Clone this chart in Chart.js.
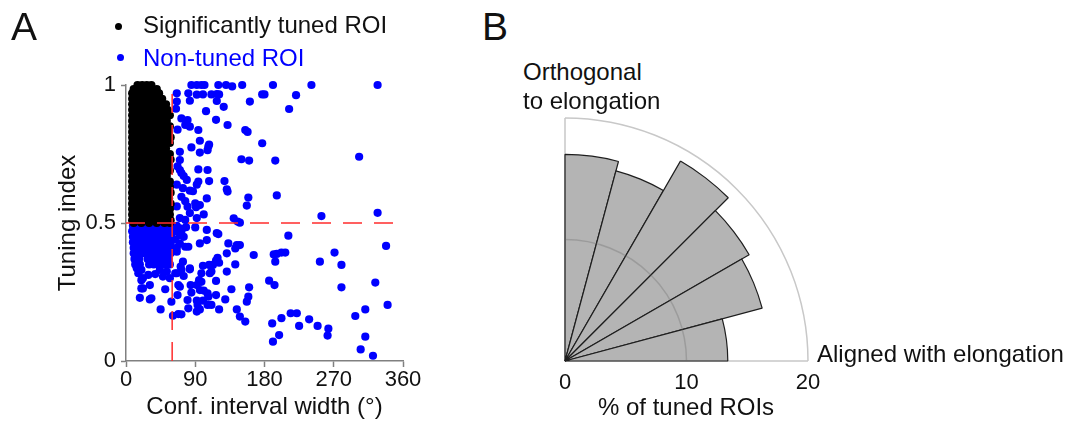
<!DOCTYPE html>
<html>
<head>
<meta charset="utf-8">
<title>Tuning index / orientation</title>
<script src="https://cdn.jsdelivr.net/npm/chart.js@4.4.6/dist/chart.umd.min.js"></script>
<style>
  html, body { margin: 0; padding: 0; width: 1071px; height: 425px; overflow: hidden; background: #fff;
               font-family: "Liberation Sans", Arial, sans-serif; }
  #canvasA { position: absolute; left: 0; top: 0; }
  #canvasB { position: absolute; left: 292px; top: 88px; }
  .lbl { position: absolute; white-space: nowrap; color: #111; font-size: 24px; line-height: 1; }
  .big { font-size: 39px; }
  .dot { position: absolute; width: 7px; height: 7px; border-radius: 50%; }
</style>
</head>
<body>
  <canvas id="canvasA" width="460" height="425"></canvas>
  <canvas id="canvasB" width="546" height="546"></canvas>

  <div class="lbl big" style="left:11px; top:7px;">A</div>
  <div class="lbl big" style="left:482px; top:7px;">B</div>

  <div class="dot" style="left:115px; top:23px; background:#000;"></div>
  <div class="lbl" style="left:143px; top:13px;">Significantly tuned ROI</div>
  <div class="dot" style="left:117px; top:54px; background:#0000ff;"></div>
  <div class="lbl" style="left:143px; top:46px; color:#0000ff;">Non-tuned ROI</div>

  <div class="lbl" style="left:523px; top:60px;">Orthogonal</div>
  <div class="lbl" style="left:523px; top:89px;">to elongation</div>
  <div class="lbl" style="left:817px; top:342px;">Aligned with elongation</div>
  <div class="lbl" style="left:598px; top:395px;">% of tuned ROIs</div>

<script>
// ---- panel A : tuning index vs confidence interval width ----
// tuned ROIs, dense block: one row of x values (deg) per tuning index level
const tunedRowY = [1.00, 0.985, 0.97, 0.95, 0.93, 0.91, 0.89, 0.87, 0.85, 0.83, 0.81, 0.79, 0.77, 0.75,
                   0.73, 0.71, 0.69, 0.67, 0.65, 0.63, 0.61, 0.59, 0.57, 0.55, 0.53, 0.51, 0.50];
const tunedRowX = [
  [15, 21, 27, 33],
  [10, 16, 22, 28, 34, 40],
  [8, 13, 18, 23, 28, 33, 38, 43],
  [8, 13, 18, 23, 28, 33, 38, 43, 47],
  [8, 13, 18, 23, 28, 33, 38, 44, 52],
  [8, 13, 18, 23, 28, 33, 38, 43, 48, 54],
  [8, 13, 18, 23, 28, 33, 38, 43, 48, 53, 57],
  [8, 13, 18, 23, 28, 33, 38, 43, 48, 53],
  [8, 13, 18, 23, 28, 33, 38, 43, 48, 53, 57],
  [8, 13, 18, 23, 28, 33, 38, 43, 48, 52, 56],
  [8, 13, 18, 23, 28, 33, 38, 43, 48, 53, 58],
  [8, 13, 18, 23, 28, 33, 38, 43, 48, 53, 57],
  [8, 13, 18, 23, 28, 33, 38, 43, 48, 52],
  [8, 13, 18, 23, 28, 33, 38, 43, 48, 53, 57],
  [8, 13, 18, 23, 28, 33, 38, 43, 48, 53, 58],
  [8, 13, 18, 23, 28, 33, 38, 43, 48, 52, 56],
  [8, 13, 18, 23, 28, 33, 38, 43, 48, 53, 57],
  [8, 13, 18, 23, 28, 33, 38, 43, 48, 53],
  [8, 13, 18, 23, 28, 33, 38, 43, 48, 53, 57],
  [8, 13, 18, 23, 28, 33, 38, 43, 48, 52, 57],
  [8, 13, 18, 23, 28, 33, 38, 43, 48, 53, 58],
  [8, 13, 18, 23, 28, 33, 38, 43, 48, 53, 56],
  [8, 13, 18, 23, 28, 33, 38, 43, 48, 53, 58],
  [8, 13, 18, 23, 28, 33, 38, 43, 48, 53, 57],
  [8, 13, 18, 23, 28, 33, 38, 43, 48, 52, 57],
  [8, 13, 18, 23, 28, 33, 38, 43, 48, 53, 58],
  [10, 20, 30, 40, 50, 57]
];

// non-tuned ROIs, dense block under 0.5
const nonTunedRowY = [0.49, 0.47, 0.45, 0.43, 0.41, 0.39, 0.37, 0.35];
const nonTunedRowX = [
  [9, 14, 19, 24, 29, 34, 39, 44, 49, 54, 59],
  [8, 13, 18, 23, 28, 33, 38, 43, 48, 53, 58, 63],
  [9, 14, 19, 24, 29, 34, 39, 44, 49, 54, 59],
  [9, 14, 19, 24, 29, 34, 39, 44, 49, 54, 58],
  [10, 15, 20, 25, 30, 35, 40, 45, 50, 55, 60],
  [10, 15, 21, 27, 33, 38, 43, 48, 53, 58],
  [11, 17, 28, 34, 40, 45, 50, 55],
  [12, 18, 30, 36, 42, 47, 52, 57]
];

// non-tuned ROIs, scattered [CI width (deg), tuning index]
const nonTunedPts = [
  [85, 1.0], [92, 1.0], [98, 1.0], [102, 1.0], [120, 1.0], [130, 1.0], [138, 0.995], [151, 1.0],
  [191, 1.0], [241, 1.0], [327, 1.0],
  [66, 0.97], [66, 0.94], [65, 0.914], [81, 0.97], [83, 0.943], [92, 0.965], [100, 0.966],
  [111, 0.966], [118, 0.967], [121, 0.966], [118, 0.942], [127, 0.921], [104, 0.905], [117, 0.874],
  [132, 0.855], [94, 0.837], [72, 0.879], [80, 0.873], [83, 0.849], [77, 0.855], [67, 0.838],
  [155, 0.837], [158, 0.83], [161, 0.94], [177, 0.966], [180, 0.966], [212, 0.913], [221, 0.963],
  [177, 0.789], [303, 0.74], [96, 0.798], [107, 0.777], [106, 0.764], [108, 0.784], [96, 0.755],
  [85, 0.774], [70, 0.758], [70, 0.728], [150, 0.731], [160, 0.726], [194, 0.726], [196, 0.6],
  [67, 0.705], [94, 0.694], [106, 0.692], [108, 0.652], [94, 0.65], [70, 0.692], [72, 0.681],
  [75, 0.67], [79, 0.656], [128, 0.652], [131, 0.622], [132, 0.614], [159, 0.592], [157, 0.563],
  [92, 0.639], [66, 0.639], [87, 0.615], [105, 0.589], [96, 0.565], [90, 0.571], [91, 0.557],
  [101, 0.531], [74, 0.626], [83, 0.617], [72, 0.595], [77, 0.579], [66, 0.56], [80, 0.559],
  [83, 0.536], [70, 0.518], [92, 0.518], [140, 0.517], [145, 0.505], [148, 0.501], [254, 0.525],
  [327, 0.537],
  [66, 0.49], [70, 0.481], [72, 0.47], [78, 0.485], [77, 0.511], [90, 0.484], [105, 0.475],
  [70, 0.455], [75, 0.45], [64, 0.44], [70, 0.425], [66, 0.41], [66, 0.396], [77, 0.414],
  [118, 0.463], [120, 0.46], [96, 0.426], [105, 0.438], [81, 0.414], [133, 0.426], [144, 0.42],
  [148, 0.42], [142, 0.408], [166, 0.384], [192, 0.386], [196, 0.388], [202, 0.393], [207, 0.393],
  [194, 0.36], [211, 0.454], [271, 0.393], [252, 0.36], [280, 0.348], [338, 0.417], [131, 0.39],
  [119, 0.374], [117, 0.364], [121, 0.356], [108, 0.348], [113, 0.348], [100, 0.345], [111, 0.324],
  [98, 0.318], [109, 0.318], [83, 0.332], [83, 0.336], [72, 0.33], [74, 0.36], [142, 0.35],
  [131, 0.324], [137, 0.26], [117, 0.29], [98, 0.287], [117, 0.239], [106, 0.245], [96, 0.257],
  [101, 0.255], [84, 0.275], [85, 0.248], [80, 0.221], [92, 0.219], [100, 0.219], [93, 0.203],
  [106, 0.203], [111, 0.203], [107, 0.233], [70, 0.269], [68, 0.275], [67, 0.239], [75, 0.308],
  [71, 0.342], [66, 0.318], [95, 0.293], [92, 0.275], [129, 0.223], [121, 0.187], [144, 0.187],
  [148, 0.161], [155, 0.143], [157, 0.215], [159, 0.233], [160, 0.267], [186, 0.291], [193, 0.275],
  [190, 0.136], [191, 0.07], [199, 0.094], [202, 0.155], [214, 0.173], [222, 0.173], [225, 0.127],
  [238, 0.151], [249, 0.127], [263, 0.117], [262, 0.092], [280, 0.267], [298, 0.163], [311, 0.187],
  [324, 0.284], [340, 0.203], [305, 0.042], [311, 0.088], [321, 0.019], [81, 0.191], [72, 0.169],
  [68, 0.17], [61, 0.164], [59, 0.215], [92, 0.179], [96, 0.187], [45, 0.187], [33, 0.227],
  [31, 0.223], [18, 0.229], [20, 0.263], [31, 0.275], [51, 0.26],
  [14, 0.336], [20, 0.33], [16, 0.318], [22, 0.3], [29, 0.312], [38, 0.315], [44, 0.33],
  [53, 0.324], [57, 0.3], [64, 0.318], [48, 0.306], [14, 0.342], [20, 0.293], [22, 0.263]
];

const ciCutoff = 60;        // deg, vertical dashed line
const tiCutoff = 0.5;       // tuning index, horizontal dashed line
const xTickStep = 90;
const yTickStep = 0.5;

// ---- panel B : preferred orientation of tuned ROIs, 15 deg bins ----
// bins listed clockwise from the vertical (orthogonal) to the horizontal (aligned)
const orientBins = ['75-90°', '60-75°', '45-60°', '30-45°', '15-30°', '0-15°'];
const pctTuned   = [17.0, 16.2, 19.0, 17.5, 16.8, 13.4];
const radialTicks = [0, 10, 20];

const FONT = '"Liberation Sans", Arial, sans-serif';
Chart.defaults.font.family = FONT;
Chart.defaults.color = '#111';

function rowsToPoints(ys, xs) {
  const pts = [];
  ys.forEach((y, i) => xs[i].forEach(x => pts.push({ x: x, y: y })));
  return pts;
}

const tunedData = rowsToPoints(tunedRowY, tunedRowX);
const nonTunedData = rowsToPoints(nonTunedRowY, nonTunedRowX)
  .concat(nonTunedPts.map(p => ({ x: p[0], y: p[1] })));

const dotStyle = { pointRadius: 4.1, pointHoverRadius: 4.1, pointBorderWidth: 0, showLine: false, clip: false };

new Chart(document.getElementById('canvasA'), {
  type: 'scatter',
  data: {
    datasets: [
      { type: 'line', data: [{ x: 0, y: tiCutoff }, { x: 360, y: tiCutoff }],
        borderColor: '#ff2d2d', borderWidth: 1.5, borderDash: [19, 12], pointRadius: 0, order: 0, clip: false },
      { type: 'line', data: [{ x: ciCutoff, y: 0 }, { x: ciCutoff, y: 1 }],
        borderColor: '#ff2d2d', borderWidth: 1.5, borderDash: [19, 12], pointRadius: 0, order: 0, clip: false },
      Object.assign({ label: 'Significantly tuned ROI', data: tunedData,
        pointBackgroundColor: '#000', pointBorderColor: '#000', order: 1 }, dotStyle),
      Object.assign({ label: 'Non-tuned ROI', data: nonTunedData,
        pointBackgroundColor: '#0000ff', pointBorderColor: '#0000ff', order: 2 }, dotStyle)
    ]
  },
  options: {
    responsive: false,
    animation: false,
    layout: { padding: { left: 0, top: 85, right: 57, bottom: 0 } },
    plugins: { legend: { display: false }, tooltip: { enabled: false } },
    scales: {
      x: {
        type: 'linear', min: 0, max: 360,
        ticks: { stepSize: xTickStep, font: { size: 22 }, padding: 0 },
        grid: { drawOnChartArea: false, tickLength: 6, color: '#808080', tickWidth: 1.5 },
        border: { color: '#808080', width: 1.5 },
        title: { display: true, text: 'Conf. interval width (°)', font: { size: 24 }, padding: { top: 0, bottom: 3 } },
        afterFit: s => { s.height = 64; }
      },
      y: {
        min: 0, max: 1,
        ticks: { stepSize: yTickStep, font: { size: 22 }, padding: 5, callback: v => String(v) },
        grid: { drawOnChartArea: false, tickLength: 5, color: '#808080', tickWidth: 1.5 },
        border: { color: '#808080', width: 1.5 },
        title: { display: true, text: 'Tuning index', font: { size: 24 }, padding: { top: 54, bottom: 0 } },
        afterFit: s => { s.width = 126; }
      }
    }
  }
});

// quarter-circle frame, inner ring and tick labels for the rose plot
const quadrantFrame = {
  id: 'quadrantFrame',
  beforeDatasetsDraw(chart) {
    const r = chart.scales.r, ctx = chart.ctx;
    const cx = r.xCenter, cy = r.yCenter;
    const R = r.getDistanceFromCenterForValue(r.max);
    ctx.save();
    ctx.strokeStyle = '#c8c8c8';
    ctx.lineWidth = 1.5;
    ctx.beginPath();
    ctx.moveTo(cx, cy - R);
    ctx.lineTo(cx, cy);
    ctx.lineTo(cx + R, cy);
    ctx.stroke();
    ctx.beginPath();
    ctx.arc(cx, cy, R, -Math.PI / 2, 0);
    ctx.stroke();
    ctx.restore();
  },
  afterDatasetsDraw(chart) {
    const r = chart.scales.r, ctx = chart.ctx;
    const cx = r.xCenter, cy = r.yCenter;
    ctx.save();
    ctx.strokeStyle = 'rgba(100,100,100,0.3)';
    ctx.lineWidth = 1.5;
    radialTicks.slice(1, -1).forEach(v => {
      ctx.beginPath();
      ctx.arc(cx, cy, r.getDistanceFromCenterForValue(v), -Math.PI / 2, 0);
      ctx.stroke();
    });
    ctx.fillStyle = '#111';
    ctx.font = '22px ' + FONT;
    ctx.textAlign = 'center';
    ctx.textBaseline = 'alphabetic';
    radialTicks.forEach(v => ctx.fillText(String(v), cx + r.getDistanceFromCenterForValue(v), cy + 28));
    ctx.restore();
  }
};

new Chart(document.getElementById('canvasB'), {
  type: 'polarArea',
  data: {
    labels: orientBins,
    datasets: [{
      data: pctTuned,
      angle: 15,
      backgroundColor: '#b4b4b4',
      borderColor: '#1e1e1e',
      borderWidth: 1.2
    }]
  },
  options: {
    responsive: false,
    animation: false,
    layout: { padding: 30 },
    plugins: { legend: { display: false }, tooltip: { enabled: false } },
    scales: {
      r: {
        min: 0, max: 20, startAngle: 0,
        ticks: { display: false, stepSize: 10 },
        grid: { display: false },
        angleLines: { display: false },
        pointLabels: { display: false }
      }
    }
  },
  plugins: [quadrantFrame]
});
</script>
</body>
</html>
